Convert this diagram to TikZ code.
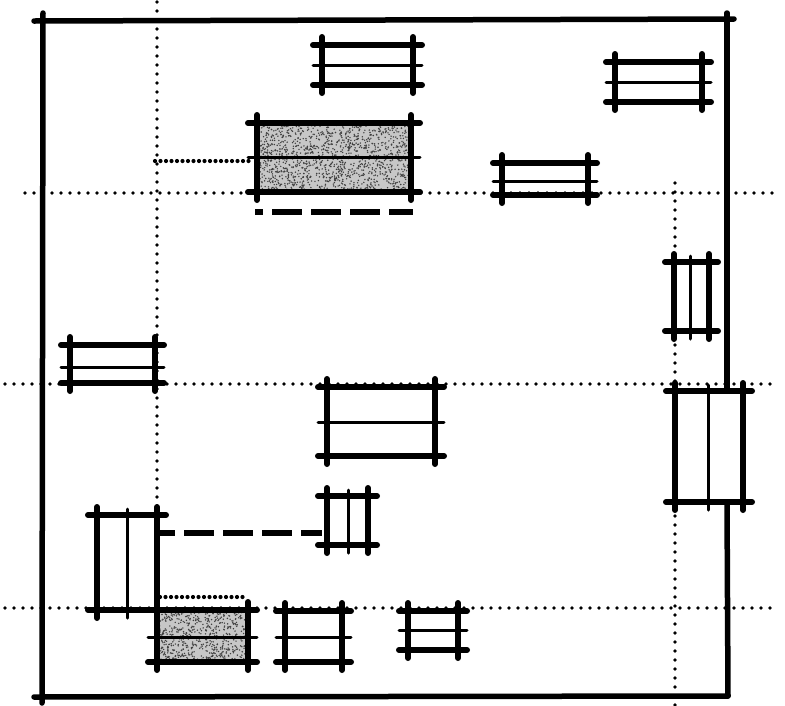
\documentclass[tikz,border=0pt]{standalone}
\begin{document}
\begin{tikzpicture}[x=1pt,y=-1pt,
  thickln/.style={line width=6pt,line cap=round},
  thinln/.style={line width=3pt,line cap=round},
  frameln/.style={line width=5.5pt,line cap=round},
  guideln/.style={line width=3.6pt,line cap=round,dash pattern=on 0pt off 9pt},
  densedot/.style={line width=4.2pt,line cap=round,dash pattern=on 0pt off 5.5pt},
  heavydash/.style={line width=5.5pt,dash pattern=on 30pt off 9pt},
  stipple/.style={fill=black!22},
  speck/.style={fill=black!75}]
\useasboundingbox (0,0) rectangle (785,705);
\pgfmathsetseed{4242}
\newcommand{\HFrame}[5]{%
  \draw[thickln] (#1-9,#3) -- (#2+9,#3);
  \draw[thickln] (#1-9,#5) -- (#2+9,#5);
  \draw[thinln] (#1-9,#4) -- (#2+9,#4);
  \draw[thickln] (#1,#3-8) -- (#1,#5+8);
  \draw[thickln] (#2,#3-8) -- (#2,#5+8);}
\newcommand{\VFrame}[5]{%
  \draw[thickln] (#3,#1-8) -- (#3,#2+8);
  \draw[thickln] (#5,#1-8) -- (#5,#2+8);
  \draw[thinln] (#4,#1-6) -- (#4,#2+8);
  \draw[thickln] (#3-9,#1) -- (#5+9,#1);
  \draw[thickln] (#3-9,#2) -- (#5+9,#2);}
% guide lines
\draw[guideln] (157,2) -- (157,508);
\draw[guideln] (25,193) -- (778,193);
\draw[guideln] (5,384) -- (778,384);
\draw[guideln] (5,608) -- (778,608);
\draw[guideln] (675,183) -- (675,705);
% shaded fills
\fill[stipple] (257,123) rectangle (411,192);
\fill[stipple] (157,610) rectangle (248,662);
\foreach \i in {1,...,1400} {\fill[speck] ({257+154*rnd},{123+69*rnd}) circle (0.8);}
\foreach \i in {1,...,650} {\fill[speck] ({157+91*rnd},{610+52*rnd}) circle (0.8);}
% frame
\draw[frameln] (34,21) -- (734,19);
\draw[frameln] (43,13) -- (42,703);
\draw[frameln] (34,697) -- (728,696);
\draw[frameln] (727,13) -- (727,391);
\draw[frameln] (727,502) -- (728,696);
% boxes
\HFrame{322}{413}{45}{65}{85}
\HFrame{615}{702}{62}{82}{102}
\HFrame{257}{411}{123}{157}{192}
\HFrame{502}{588}{163}{181}{195}
\VFrame{262}{331}{674}{690}{709}
\VFrame{391}{502}{675}{708}{743}
\HFrame{70}{155}{345}{367}{383}
\HFrame{327}{435}{387}{422}{456}
\VFrame{496}{545}{327}{348}{368}
\VFrame{515}{610}{97}{127}{157}
\HFrame{157}{248}{610}{637}{662}
\HFrame{285}{342}{611}{637}{662}
\HFrame{408}{458}{611}{630}{650}
% connectors
\draw[densedot] (155,161) -- (252,161);
\draw[densedot] (160,597) -- (247,597);
\draw[heavydash,dash phase=22pt] (255,212) -- (413,212);
\draw[heavydash,dash phase=15pt] (160,533) -- (322,533);
\end{tikzpicture}
\end{document}
